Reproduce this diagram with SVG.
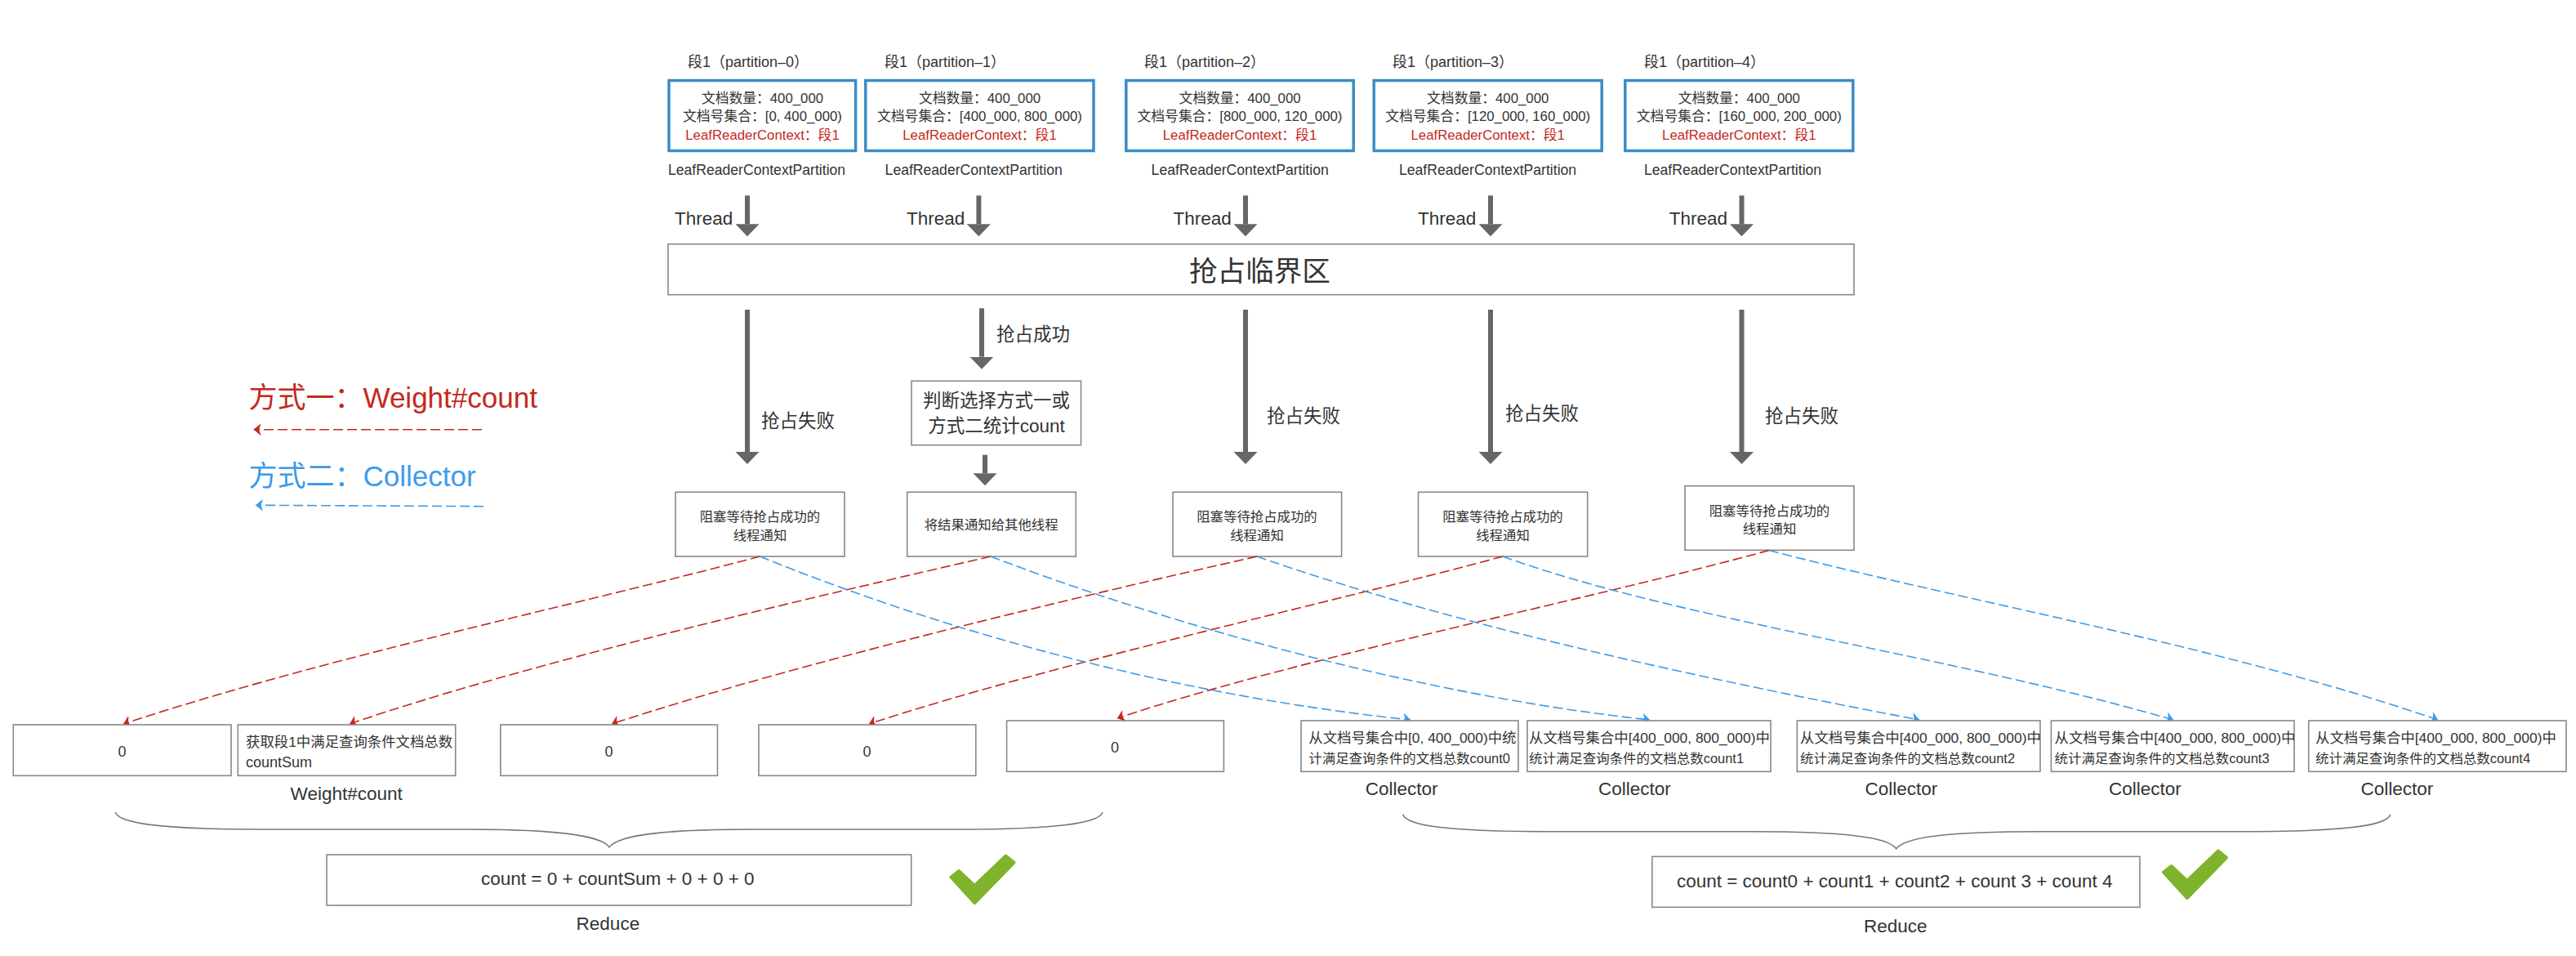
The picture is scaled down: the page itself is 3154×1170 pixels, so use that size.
<svg xmlns="http://www.w3.org/2000/svg" width="3154" height="1170" viewBox="0 0 3154 1170">
<style>
text{font-family:"Liberation Sans","Noto Sans CJK SC",sans-serif;fill:#333}
.f16{font-size:16.4px}.f165{font-size:16.45px}.f168{font-size:16.8px}.f17{font-size:17.4px}.f176{font-size:17.6px}.f18{font-size:18px}.f22{font-size:22.5px}.f34{font-size:34.6px}.f35{font-size:35px}
.m{text-anchor:middle}
.red{fill:#c4281e}.bl{fill:#3d9be9}
.b{fill:#fff;stroke:#888;stroke-width:1.6}
.p{fill:#fff;stroke:#3a8cc8;stroke-width:3.5}
.thick{fill:none;stroke:#666;stroke-width:6;marker-end:url(#mt)}
.dr{fill:none;stroke:#c4281e;stroke-width:1.6;stroke-dasharray:12 5;marker-end:url(#mr)}
.db{fill:none;stroke:#3d9be9;stroke-width:1.6;stroke-dasharray:12 5;marker-end:url(#mb)}
.brace{fill:none;stroke:#777;stroke-width:1.5}
.chk{fill:#7fb32c;stroke:#7fb32c;stroke-width:4;stroke-linejoin:round}
</style>
<defs>
<marker id="mt" viewBox="0 0 15 29" refX="0" refY="14.5" markerWidth="15" markerHeight="29" markerUnits="userSpaceOnUse" orient="auto"><path d="M0 0L15 14.5L0 29Z" fill="#666"/></marker>
<marker id="mr" viewBox="0 0 10 16" refX="10" refY="8" markerWidth="10" markerHeight="16" markerUnits="userSpaceOnUse" orient="auto"><path d="M10 8L1 .5L3.5 8L1 15.5Z" fill="#c4281e"/></marker>
<marker id="mb" viewBox="0 0 10 16" refX="10" refY="8" markerWidth="10" markerHeight="16" markerUnits="userSpaceOnUse" orient="auto"><path d="M10 8L1 .5L3.5 8L1 15.5Z" fill="#3d9be9"/></marker>
<polygon id="check" points="1164.5,1073.5 1174,1066 1193.3,1084 1231.5,1047.5 1241.5,1055.5 1193.3,1105"/>
</defs>
<rect width="3154" height="1170" fill="#fff"/>

<g id="partition-0">
<text class="f18" x="842" y="81.7">段1（partition–0）</text>
<rect class="p" x="819" y="98.5" width="228.6" height="86"/>
<text class="f168 m" x="933.5" y="126">文档数量：400_000</text>
<text class="f168 m" x="933.5" y="148.3">文档号集合：[0, 400_000)</text>
<text class="f168 m red" x="933.5" y="170.7">LeafReaderContext：段1</text>
<text class="f176" x="818" y="214">LeafReaderContextPartition</text>
<text class="f22" x="826" y="275">Thread</text>
</g>
<g id="partition-1">
<text class="f18" x="1083" y="81.7">段1（partition–1）</text>
<rect class="p" x="1059.8" y="98.5" width="279.2" height="86"/>
<text class="f168 m" x="1199.5" y="126">文档数量：400_000</text>
<text class="f168 m" x="1199.5" y="148.3">文档号集合：[400_000, 800_000)</text>
<text class="f168 m red" x="1199.5" y="170.7">LeafReaderContext：段1</text>
<text class="f176" x="1083.6" y="214">LeafReaderContextPartition</text>
<text class="f22" x="1110" y="275">Thread</text>
</g>
<g id="partition-2">
<text class="f18" x="1401" y="81.7">段1（partition–2）</text>
<rect class="p" x="1378.8" y="98.5" width="278.4" height="86"/>
<text class="f168 m" x="1518" y="126">文档数量：400_000</text>
<text class="f168 m" x="1518" y="148.3">文档号集合：[800_000, 120_000)</text>
<text class="f168 m red" x="1518" y="170.7">LeafReaderContext：段1</text>
<text class="f176" x="1409.6" y="214">LeafReaderContextPartition</text>
<text class="f22" x="1436.6" y="275">Thread</text>
</g>
<g id="partition-3">
<text class="f18" x="1705" y="81.7">段1（partition–3）</text>
<rect class="p" x="1682.2" y="98.5" width="279" height="86"/>
<text class="f168 m" x="1821.7" y="126">文档数量：400_000</text>
<text class="f168 m" x="1821.7" y="148.3">文档号集合：[120_000, 160_000)</text>
<text class="f168 m red" x="1821.7" y="170.7">LeafReaderContext：段1</text>
<text class="f176" x="1713" y="214">LeafReaderContextPartition</text>
<text class="f22" x="1736" y="275">Thread</text>
</g>
<g id="partition-4">
<text class="f18" x="2013" y="81.7">段1（partition–4）</text>
<rect class="p" x="1989.8" y="98.5" width="279" height="86"/>
<text class="f168 m" x="2129.3" y="126">文档数量：400_000</text>
<text class="f168 m" x="2129.3" y="148.3">文档号集合：[160_000, 200_000)</text>
<text class="f168 m red" x="2129.3" y="170.7">LeafReaderContext：段1</text>
<text class="f176" x="2013" y="214">LeafReaderContextPartition</text>
<text class="f22" x="2043.7" y="275">Thread</text>
</g>

<g id="critical-section">
<rect class="b" x="818" y="298.7" width="1452" height="62"/>
<text class="f34 m" x="1542.5" y="344">抢占临界区</text>
</g>

<g id="thread-0-wait"><rect class="b" x="827" y="602.3" width="207" height="78.7"/>
<text class="f16 m" x="930.5" y="638.3">阻塞等待抢占成功的</text><text class="f16 m" x="930.5" y="660.7">线程通知</text></g>
<g id="decision"><rect class="b" x="1116" y="466.3" width="207.5" height="78.4"/>
<text class="f22 m" x="1220" y="498.3">判断选择方式一或</text><text class="f22 m" x="1220" y="529.3">方式二统计count</text></g>
<g id="thread-1-notify"><rect class="b" x="1110.7" y="602.3" width="206.6" height="78.7"/>
<text class="f16 m" x="1213.7" y="648.3">将结果通知给其他线程</text></g>
<g id="thread-2-wait"><rect class="b" x="1436" y="602.3" width="206.6" height="78.7"/>
<text class="f16 m" x="1539" y="638.3">阻塞等待抢占成功的</text><text class="f16 m" x="1539" y="660.7">线程通知</text></g>
<g id="thread-3-wait"><rect class="b" x="1736.5" y="602.3" width="207.2" height="78.7"/>
<text class="f16 m" x="1840" y="638.3">阻塞等待抢占成功的</text><text class="f16 m" x="1840" y="660.7">线程通知</text></g>
<g id="thread-4-wait"><rect class="b" x="2063" y="594.7" width="207" height="78.6"/>
<text class="f16 m" x="2166.5" y="630.7">阻塞等待抢占成功的</text><text class="f16 m" x="2166.5" y="653.3">线程通知</text></g>

<g id="labels">
<text class="f22" x="1220" y="417.3">抢占成功</text>
<text class="f22" x="932" y="523">抢占失败</text>
<text class="f22" x="1551" y="517">抢占失败</text>
<text class="f22" x="1843" y="514.3">抢占失败</text>
<text class="f22" x="2161" y="517">抢占失败</text>
</g>

<g id="legend">
<text class="f35 red" x="304.5" y="499.3">方式一：Weight#count</text>
<text class="f35 bl" x="304.5" y="595">方式二：Collector</text>
</g>

<g id="connectors">
<path class="thick" d="M915 239.3V274.3"/>
<path class="thick" d="M1198.4 239.3V274.3"/>
<path class="thick" d="M1525 239.3V274.3"/>
<path class="thick" d="M1825 239.3V274.3"/>
<path class="thick" d="M2132.5 239.3V274.3"/>
<path class="thick" d="M915 379V553"/>
<path class="thick" d="M1202 377.3V436.7"/>
<path class="thick" d="M1206 556.7V579.3"/>
<path class="thick" d="M1525 379V553"/>
<path class="thick" d="M1825 379V553"/>
<path class="thick" d="M2132.5 379V553"/>
<path class="dr" d="M590 525.7H310.6"/>
<path class="db" d="M592 619.7L313 618.3"/>
<path class="dr" d="M930.5 681C700 742 400 804 151 886"/>
<path class="dr" d="M1213 681C1000 730 650 810 428 886"/>
<path class="dr" d="M1539 681C1330 728 980 810 749 886"/>
<path class="dr" d="M1840 681C1640 735 1290 812 1064 886"/>
<path class="dr" d="M2166 673.5C1950 733 1590 805 1368 879"/>
<path class="db" d="M930.5 681C1150 770 1430 850 1727 881"/>
<path class="db" d="M1213 681C1420 760 1730 850 2020 881"/>
<path class="db" d="M1539 681C1780 765 2080 830 2350 881"/>
<path class="db" d="M1840 681C2060 760 2380 800 2661 881"/>
<path class="db" d="M2166 673.5C2400 735 2720 790 2985 881"/>
</g>

<g id="result-0"><rect class="b" x="16.3" y="887" width="266.7" height="62.3"/><text class="f18 m" x="149.5" y="925.7">0</text></g>
<g id="result-1"><rect class="b" x="291.3" y="887" width="266.4" height="62.3"/>
<text class="f17" x="301" y="914">获取段1中满足查询条件文档总数</text><text class="f18" x="301" y="939.3">countSum</text></g>
<g id="result-2"><rect class="b" x="612.8" y="887" width="265.7" height="62.3"/><text class="f18 m" x="745.4" y="925.7">0</text></g>
<g id="result-3"><rect class="b" x="929" y="887" width="265.8" height="62.3"/><text class="f18 m" x="1061.6" y="925.7">0</text></g>
<g id="result-4"><rect class="b" x="1232.6" y="882" width="265.8" height="62.3"/><text class="f18 m" x="1365" y="920.7">0</text></g>
<g id="weight-label"><text class="f22" x="355.6" y="979.3">Weight#count</text></g>

<g id="collector-0"><rect class="b" x="1593" y="882" width="266" height="62.3"/>
<text class="f17" x="1602.3" y="909.3">从文档号集合中[0, 400_000)中统</text><text class="f165" x="1602.3" y="934">计满足查询条件的文档总数count0</text>
<text class="f22" x="1671.7" y="973.3">Collector</text></g>
<g id="collector-1"><rect class="b" x="1870" y="882" width="298" height="62.3"/>
<text class="f17" x="1872" y="909.3">从文档号集合中[400_000, 800_000)中</text><text class="f165" x="1872" y="934">统计满足查询条件的文档总数count1</text>
<text class="f22" x="1957" y="973.3">Collector</text></g>
<g id="collector-2"><rect class="b" x="2200.3" y="882" width="297.7" height="62.3"/>
<text class="f17" x="2204" y="909.3">从文档号集合中[400_000, 800_000)中</text><text class="f165" x="2204" y="934">统计满足查询条件的文档总数count2</text>
<text class="f22" x="2283.5" y="973.3">Collector</text></g>
<g id="collector-3"><rect class="b" x="2511.4" y="882" width="297.6" height="62.3"/>
<text class="f17" x="2515.5" y="909.3">从文档号集合中[400_000, 800_000)中</text><text class="f165" x="2515.5" y="934">统计满足查询条件的文档总数count3</text>
<text class="f22" x="2582" y="973.3">Collector</text></g>
<g id="collector-4"><rect class="b" x="2826.7" y="882" width="315.3" height="62.3"/>
<text class="f17" x="2835" y="909.3">从文档号集合中[400_000, 800_000)中</text><text class="f165" x="2835" y="934">统计满足查询条件的文档总数count4</text>
<text class="f22" x="2890.5" y="973.3">Collector</text></g>

<g id="reduce-left">
<path class="brace" d="M141.3 994C145 1008 200 1015 320 1015L570 1015C680 1015 735 1022 746 1036.7C757 1022 812 1015 922 1015L1170 1015C1290 1015 1346 1008 1350 994"/>
<rect class="b" x="400" y="1046" width="715.7" height="62"/>
<text class="f22" x="589" y="1083.3">count = 0 + countSum + 0 + 0 + 0</text>
<text class="f22" x="705.6" y="1137.7">Reduce</text>
<use class="chk" href="#check"/>
</g>
<g id="reduce-right">
<path class="brace" d="M1717.7 996.7C1722 1011 1776 1017.7 1896 1017.7L2146 1017.7C2256 1017.7 2311 1024 2321.7 1038.7C2332 1024 2388 1017.7 2498 1017.7L2748 1017.7C2868 1017.7 2923 1011 2926.7 996.7"/>
<rect class="b" x="2022.8" y="1048.3" width="597.2" height="62"/>
<text class="f22" x="2052.9" y="1085.7">count = count0 + count1 + count2 + count 3 + count 4</text>
<text class="f22" x="2282" y="1141">Reduce</text>
<use class="chk" href="#check" transform="translate(1484.5,-6)"/>
</g>
</svg>
